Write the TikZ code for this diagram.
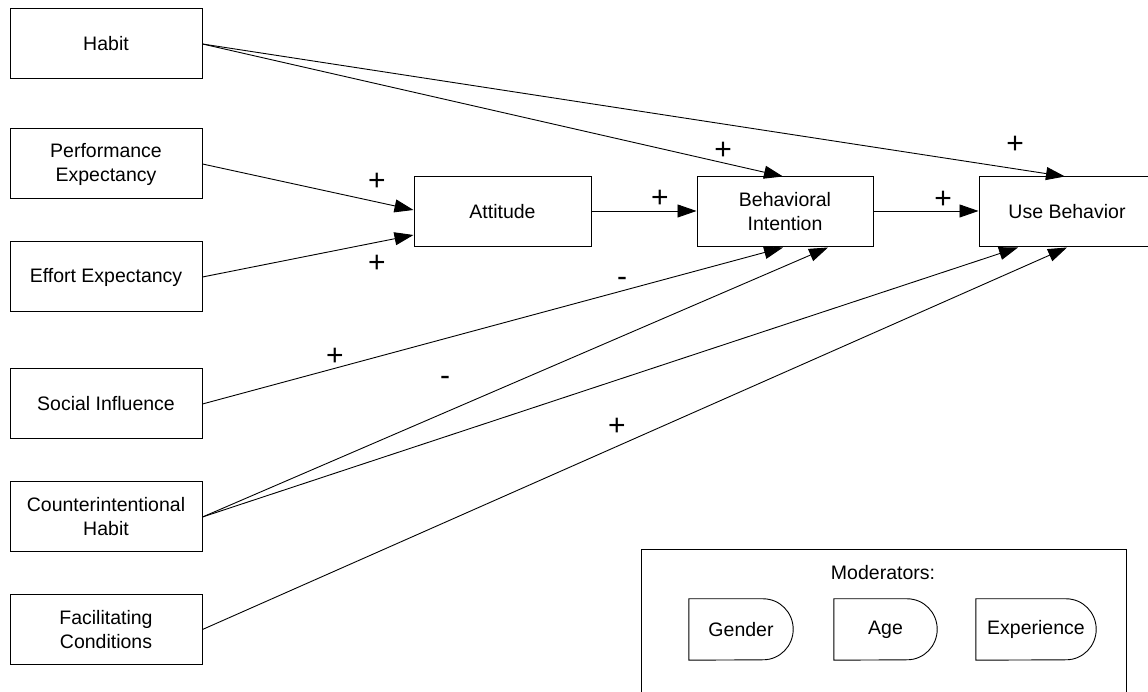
\documentclass[tikz,border=0pt]{standalone}
\usepackage{fontspec}
\setmainfont{Liberation Sans}
\usetikzlibrary{arrows.meta}
\begin{document}
\begin{tikzpicture}[x=1pt,y=1pt,
  font=\fontsize{19.5}{24}\selectfont,
  box/.style={draw, line width=1pt, minimum width=192pt, minimum height=70pt,
    inner sep=0pt, align=center},
  midbox/.style={box, minimum width=177pt},
  link/.style={line width=0.9pt, -{Triangle[length=19pt,width=13pt]}},
  sign/.style={font=\fontsize{30}{30}\selectfont, inner sep=0pt},
  modshape/.style={minimum height=61pt, inner sep=0pt},
  outline/.style={line width=0.9pt},
]
\useasboundingbox (0,0) rectangle (1148,692);
\clip (0,0) rectangle (1148,692);
\fill[white] (0,0) rectangle (1148,692);

% determinants
\node[box] (habit)  at (106,648)  {Habit};
\node[box] (perf)   at (106,528)  {Performance\\Expectancy};
\node[box] (effort) at (106,415)  {Effort Expectancy};
\node[box] (social) at (106,288)  {Social Influence};
\node[box] (cih)    at (106,175)  {Counterintentional\\Habit};
\node[box] (facil)  at (106,62.5) {Facilitating\\Conditions};

% core constructs
\node[midbox] (att) at (502.5,480) {Attitude};
\node[midbox, minimum width=176pt] (bi) at (785,480) {Behavioral\\Intention};
\node[midbox, minimum width=176pt] (use) at (1067,480) {Use Behavior};

% paths
\draw[link] (perf.east)   -- ([yshift=2pt]att.west);
\draw[link] (effort.east) -- ([yshift=-23pt]att.west);
\draw[link] ([yshift=1pt]att.east) -- ([yshift=1pt]bi.west);
\draw[link] ([yshift=1pt]bi.east)  -- ([yshift=1pt]use.west);
\draw[link] (habit.east)  -- ([xshift=-2pt]bi.north);
\draw[link] (habit.east)  -- ([xshift=-2pt]use.north);
\draw[link] (social.east) -- ([xshift=-2pt]bi.south);
\draw[link] (cih.east)    -- ([xshift=43pt]bi.south);
\draw[link] (cih.east)    -- ([xshift=-49pt]use.south);
\draw[link] (facil.east)  -- (use.south);

% signs
\node[sign] (s1)  at (377,510) {+};
\node[sign] (s2)  at (377,428) {+};
\node[sign] (s3)  at (660,493) {+};
\node[sign] (s4)  at (723,541) {+};
\node[sign] (s5)  at (1015,547) {+};
\node[sign] (s6)  at (943,492) {+};
\node[sign] (s7)  at (335,335) {+};
\node[sign] (s8)  at (445,311) {-};
\node[sign] (s9)  at (622,410) {-};
\node[sign] (s10) at (617,265) {+};

% moderators panel (open at the bottom)
\node[minimum width=485pt, minimum height=160pt, inner sep=0pt, anchor=north west]
  (modbox) at (641,143) {};
\draw[outline] (modbox.south west) -- (modbox.north west) -- (modbox.north east)
  -- (modbox.south east);
\node (modtitle) at (883,119) {Moderators:};
\node[modshape, minimum width=104pt] (gender) at (741,62.5)  {Gender};
\node[modshape, minimum width=103pt] (age)    at (885.5,62.5) {Age};
\node[modshape, minimum width=120pt] (exper)  at (1036,62.5) {Experience};
\foreach \n in {gender,age,exper}
  \draw[outline] (\n.north west) -- ([xshift=-30pt]\n.north east)
    arc[start angle=90, end angle=-90, x radius=30pt, y radius=30.5pt]
    -- (\n.south west) -- cycle;
\end{tikzpicture}
\end{document}
